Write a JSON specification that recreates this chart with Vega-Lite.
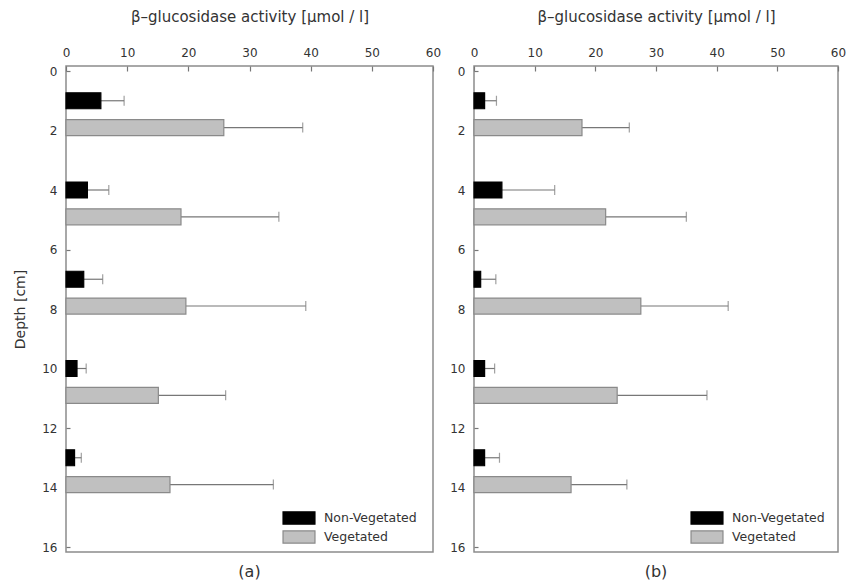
{
  "$schema": "https://vega.github.io/schema/vega-lite/v6.json",
  "padding": {"left": 12, "top": 8, "right": 0, "bottom": 0},
  "bounds": "flush",
  "spacing": 41,
  "config": {
    "font": "DejaVu Sans",
    "view": {"stroke": "#8c8c8c", "strokeWidth": 1.5},
    "axis": {"grid": false, "domain": false, "labelFlush": false, "labelColor": "#333", "labelFontSize": 12, "titleFontSize": 15, "titleFontWeight": "normal", "titleColor": "#333", "tickColor": "#777", "tickWidth": 1.2}
  },
  "datasets": {
    "d": [
      {"panel": "a", "group": "Non-Vegetated", "depth": 1, "value": 5.7, "upper": 9.5},
      {"panel": "a", "group": "Vegetated", "depth": 1.9, "value": 25.8, "upper": 38.7},
      {"panel": "a", "group": "Non-Vegetated", "depth": 4, "value": 3.5, "upper": 7.0},
      {"panel": "a", "group": "Vegetated", "depth": 4.9, "value": 18.8, "upper": 34.8},
      {"panel": "a", "group": "Non-Vegetated", "depth": 7, "value": 2.9, "upper": 6.0},
      {"panel": "a", "group": "Vegetated", "depth": 7.9, "value": 19.6, "upper": 39.2},
      {"panel": "a", "group": "Non-Vegetated", "depth": 10, "value": 1.8, "upper": 3.3},
      {"panel": "a", "group": "Vegetated", "depth": 10.9, "value": 15.1, "upper": 26.1},
      {"panel": "a", "group": "Non-Vegetated", "depth": 13, "value": 1.4, "upper": 2.5},
      {"panel": "a", "group": "Vegetated", "depth": 13.9, "value": 17.0, "upper": 33.9},
      {"panel": "b", "group": "Non-Vegetated", "depth": 1, "value": 1.75, "upper": 3.7},
      {"panel": "b", "group": "Vegetated", "depth": 1.9, "value": 17.8, "upper": 25.6},
      {"panel": "b", "group": "Non-Vegetated", "depth": 4, "value": 4.6, "upper": 13.3},
      {"panel": "b", "group": "Vegetated", "depth": 4.9, "value": 21.7, "upper": 35.0},
      {"panel": "b", "group": "Non-Vegetated", "depth": 7, "value": 1.1, "upper": 3.6},
      {"panel": "b", "group": "Vegetated", "depth": 7.9, "value": 27.5, "upper": 41.9},
      {"panel": "b", "group": "Non-Vegetated", "depth": 10, "value": 1.75, "upper": 3.4},
      {"panel": "b", "group": "Vegetated", "depth": 10.9, "value": 23.6, "upper": 38.4},
      {"panel": "b", "group": "Non-Vegetated", "depth": 13, "value": 1.75, "upper": 4.2},
      {"panel": "b", "group": "Vegetated", "depth": 13.9, "value": 16.0, "upper": 25.2}
    ]
  },
  "data": {"name": "d"},
  "resolve": {"legend": {"color": "independent", "stroke": "independent"}},
  "hconcat": [
    {
      "width": 367, "height": 486,
      "title": {"text": "(a)", "orient": "bottom", "fontSize": 16, "fontWeight": "normal", "color": "#333", "offset": 11},
      "transform": [{"filter": "datum.panel == 'a'"}],
      "layer": [
        {
          "mark": {"type": "rule", "color": "#777", "strokeWidth": 1.2},
          "encoding": {
            "x": {"field": "value", "type": "quantitative", "scale": {"domain": [0, 60], "nice": false}},
            "x2": {"field": "upper"},
            "y": {"field": "depth", "type": "quantitative", "scale": {"domain": [0, 16], "reverse": true, "nice": false}}
          }
        },
        {
          "mark": {"type": "tick", "orient": "vertical", "size": 10, "thickness": 1.2, "color": "#777"},
          "encoding": {
            "x": {"field": "upper", "type": "quantitative"},
            "y": {"field": "depth", "type": "quantitative"}
          }
        },
        {
          "mark": {"type": "bar", "orient": "horizontal", "size": 16, "strokeWidth": 1.2},
          "encoding": {
            "x": {"field": "value", "type": "quantitative", "axis": {"orient": "top", "title": "β–glucosidase activity [μmol / l]", "values": [0, 10, 20, 30, 40, 50, 60], "tickSize": -5, "labelPadding": 12, "titlePadding": 22}},
            "y": {"field": "depth", "type": "quantitative", "axis": {"title": "Depth [cm]", "titleFontSize": 14, "values": [0, 2, 4, 6, 8, 10, 12, 14, 16], "tickSize": -4, "labelPadding": 13, "titlePadding": 14}},
            "color": {"field": "group", "type": "nominal", "scale": {"domain": ["Non-Vegetated", "Vegetated"], "range": ["#000000", "#c0c0c0"]}, "legend": {"title": null, "orient": "none", "legendX": 226, "legendY": 445, "symbolType": "M-2.6,-1H2.6V1H-2.6Z", "symbolSize": 151, "symbolStrokeWidth": 1.2, "labelFont": "DejaVu Sans", "labelFontSize": 12.5, "labelColor": "#333", "rowPadding": 1, "labelOffset": 18, "padding": 0}},
            "stroke": {"field": "group", "type": "nominal", "scale": {"domain": ["Non-Vegetated", "Vegetated"], "range": ["#000000", "#8a8a8a"]}, "legend": null}
          }
        }
      ]
    },
    {
      "width": 364, "height": 486,
      "title": {"text": "(b)", "orient": "bottom", "fontSize": 16, "fontWeight": "normal", "color": "#333", "offset": 11},
      "transform": [{"filter": "datum.panel == 'b'"}],
      "layer": [
        {
          "mark": {"type": "rule", "color": "#777", "strokeWidth": 1.2},
          "encoding": {
            "x": {"field": "value", "type": "quantitative", "scale": {"domain": [0, 60], "nice": false}},
            "x2": {"field": "upper"},
            "y": {"field": "depth", "type": "quantitative", "scale": {"domain": [0, 16], "reverse": true, "nice": false}}
          }
        },
        {
          "mark": {"type": "tick", "orient": "vertical", "size": 10, "thickness": 1.2, "color": "#777"},
          "encoding": {
            "x": {"field": "upper", "type": "quantitative"},
            "y": {"field": "depth", "type": "quantitative"}
          }
        },
        {
          "mark": {"type": "bar", "orient": "horizontal", "size": 16, "strokeWidth": 1.2},
          "encoding": {
            "x": {"field": "value", "type": "quantitative", "axis": {"orient": "top", "title": "β–glucosidase activity [μmol / l]", "values": [0, 10, 20, 30, 40, 50, 60], "tickSize": -5, "labelPadding": 12, "titlePadding": 22}},
            "y": {"field": "depth", "type": "quantitative", "axis": {"title": null, "values": [0, 2, 4, 6, 8, 10, 12, 14, 16], "tickSize": -4, "labelPadding": 13}},
            "color": {"field": "group", "type": "nominal", "scale": {"domain": ["Non-Vegetated", "Vegetated"], "range": ["#000000", "#c0c0c0"]}, "legend": {"title": null, "orient": "none", "legendX": 226, "legendY": 445, "symbolType": "M-2.6,-1H2.6V1H-2.6Z", "symbolSize": 151, "symbolStrokeWidth": 1.2, "labelFont": "DejaVu Sans", "labelFontSize": 12.5, "labelColor": "#333", "rowPadding": 1, "labelOffset": 18, "padding": 0}},
            "stroke": {"field": "group", "type": "nominal", "scale": {"domain": ["Non-Vegetated", "Vegetated"], "range": ["#000000", "#8a8a8a"]}, "legend": null}
          }
        }
      ]
    }
  ]
}
